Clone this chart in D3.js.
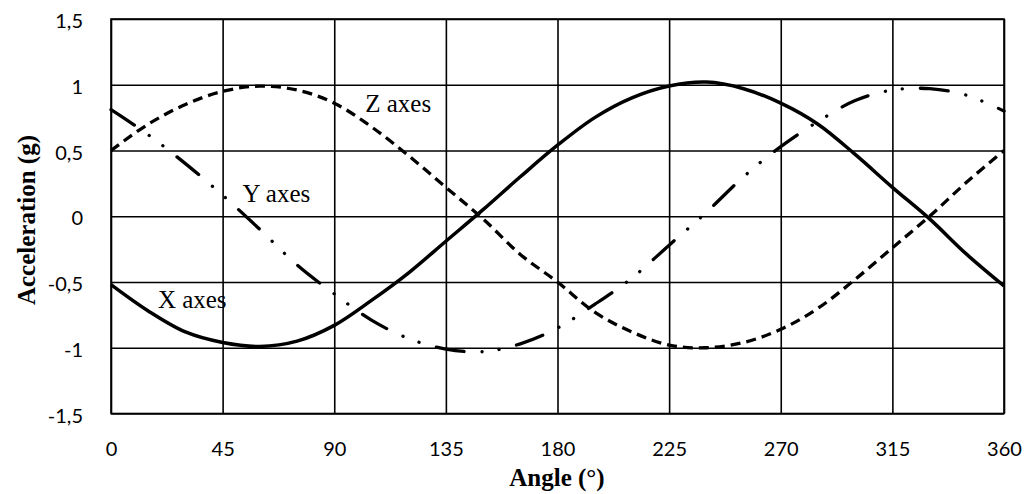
<!DOCTYPE html>
<html>
<head>
<meta charset="utf-8">
<script src="https://cdn.jsdelivr.net/npm/d3@7"></script>
<style>
  body { margin: 0; background: #fff; }
  svg { display: block; }
</style>
</head>
<body>
<svg id="chart" width="1027" height="494"></svg>
<script>
// angles sampled every 15 degrees
var angles = [0, 15, 30, 45, 60, 75, 90, 105, 120, 135, 150, 165, 180,
              195, 210, 225, 240, 255, 270, 285, 300, 315, 330, 345, 360];

var xAxes = [-0.52, -0.72, -0.88, -0.96, -0.99, -0.95, -0.83, -0.64, -0.43, -0.19, 0.05, 0.30, 0.54,
             0.75, 0.90, 0.99, 1.02, 0.97, 0.86, 0.70, 0.47, 0.22, -0.02, -0.29, -0.53];

var yAxes = [0.81, 0.62, 0.40, 0.16, -0.10, -0.37, -0.59, -0.79, -0.93, -1.01, -1.03, -0.97, -0.85,
             -0.67, -0.47, -0.22, 0.03, 0.30, 0.53, 0.72, 0.88, 0.96, 0.97, 0.92, 0.80];

var zAxes = [0.50, 0.70, 0.85, 0.95, 0.99, 0.96, 0.86, 0.68, 0.46, 0.22, -0.02, -0.29, -0.50,
             -0.73, -0.88, -0.98, -1.00, -0.96, -0.86, -0.70, -0.48, -0.24, 0.00, 0.26, 0.50];

var xTicks = [0, 45, 90, 135, 180, 225, 270, 315, 360];
var yTicks = [-1.5, -1, -0.5, 0, 0.5, 1, 1.5];

var svg = d3.select("#chart"),
    margin = {top: 19, right: 23, bottom: 80.5, left: 111},
    width = +svg.attr("width") - margin.left - margin.right,
    height = +svg.attr("height") - margin.top - margin.bottom,
    g = svg.append("g").attr("transform", "translate(" + margin.left + "," + margin.top + ")");

var x = d3.scaleLinear().domain([0, 360]).range([0, width]);
var y = d3.scaleLinear().domain([-1.5, 1.5]).range([height, 0]);

function comma(d) { return String(d).replace(".", ","); }

// grid + x labels
var gx = g.append("g")
    .attr("transform", "translate(0," + height + ")")
    .call(d3.axisBottom(x).tickValues(xTicks).tickSizeInner(-height).tickSizeOuter(0).tickPadding(28));

var gy = g.append("g")
    .call(d3.axisLeft(y).tickValues(yTicks).tickFormat(comma).tickSizeInner(-width).tickSizeOuter(0).tickPadding(28));

[gx, gy].forEach(function(a) {
  a.select(".domain").remove();
  a.selectAll("line").attr("stroke", "#000").attr("stroke-width", 1.6);
  a.selectAll("text")
    .attr("fill", "#000")
    .attr("font-family", "Lato, 'Open Sans', sans-serif")
    .attr("font-size", 20);
});
gy.selectAll("text").attr("dy", "0.43em");

g.append("rect")
    .attr("width", width)
    .attr("height", height)
    .attr("fill", "none")
    .attr("stroke", "#000")
    .attr("stroke-width", 1.6);

var line = d3.line()
    .x(function(d) { return x(d[0]); })
    .y(function(d) { return y(d[1]); })
    .curve(d3.curveCatmullRom);

function pairs(vals) { return angles.map(function(a, i) { return [a, vals[i]]; }); }

g.append("path")
    .datum(pairs(zAxes))
    .attr("d", line)
    .attr("fill", "none")
    .attr("stroke", "#000")
    .attr("stroke-width", 3.3)
    .attr("stroke-dasharray", "10,6");

g.append("path")
    .datum(pairs(yAxes))
    .attr("d", line)
    .attr("fill", "none")
    .attr("stroke", "#000")
    .attr("stroke-width", 3.3)
    .attr("stroke-linecap", "round")
    .attr("stroke-dasharray", "28,18,0.1,17,0.1,18");

g.append("path")
    .datum(pairs(xAxes))
    .attr("d", line)
    .attr("fill", "none")
    .attr("stroke", "#000")
    .attr("stroke-width", 3.5);

// series labels
var labels = [
  {text: "Z axes", a: 102.5, v: 0.79},
  {text: "Y axes", a: 53, v: 0.11},
  {text: "X axes", a: 18.9, v: -0.70}
];

g.selectAll(".lbl")
  .data(labels)
  .enter().append("text")
    .attr("class", "lbl")
    .attr("x", function(d) { return x(d.a); })
    .attr("y", function(d) { return y(d.v); })
    .attr("font-family", "'Liberation Serif', 'Times New Roman', serif")
    .attr("font-size", 25)
    .attr("fill", "#000")
    .text(function(d) { return d.text; });

// axis titles
svg.append("text")
    .attr("x", 557)
    .attr("y", 486)
    .attr("text-anchor", "middle")
    .attr("font-family", "'Liberation Serif', 'Times New Roman', serif")
    .attr("font-weight", "bold")
    .attr("font-size", 25)
    .text("Angle (°)");

svg.append("text")
    .attr("transform", "translate(35,220) rotate(-90)")
    .attr("text-anchor", "middle")
    .attr("font-family", "'Liberation Serif', 'Times New Roman', serif")
    .attr("font-weight", "bold")
    .attr("font-size", 25)
    .text("Acceleration (g)");
</script>
</body>
</html>
